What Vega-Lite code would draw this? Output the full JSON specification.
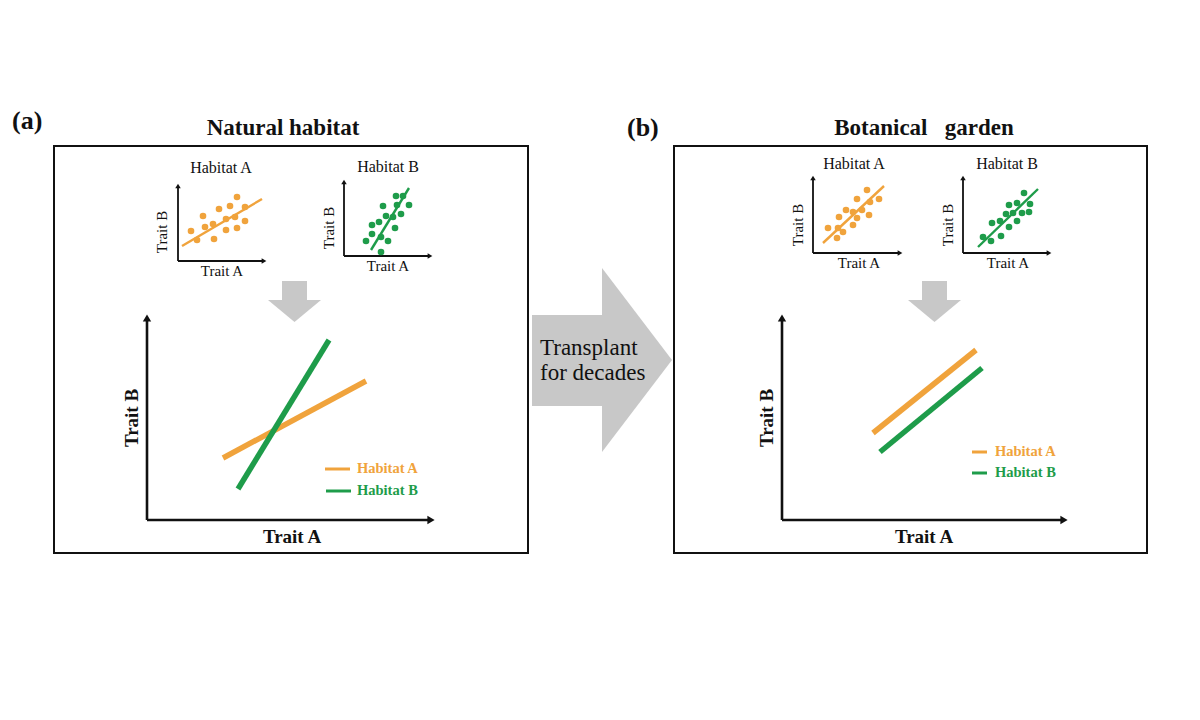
{
  "$schema": "https://vega.github.io/schema/vega-lite/v6.json",
  "width": 1200,
  "height": 720,
  "autosize": {"type": "none"},
  "padding": 0,
  "background": "white",
  "config": {"view": {"stroke": null}, "text": {"font": "Liberation Serif"}},
  "datasets": {
    "boxes": [
      {"panel": "a", "x": 54, "y": 146, "x2": 528, "y2": 553},
      {"panel": "b", "x": 674, "y": 146, "x2": 1147, "y2": 553}
    ],
    "shafts": [
      {"arrow": "transplant", "x": 532, "y": 315, "x2": 603, "y2": 406},
      {"arrow": "down a", "x": 282, "y": 281, "x2": 307, "y2": 301},
      {"arrow": "down b", "x": 922, "y": 281, "x2": 947, "y2": 301}
    ],
    "bigHead": [
      {"x": 602, "y": 268, "y2": 452},
      {"x": 672, "y": 360, "y2": 360}
    ],
    "downHeads": [
      {"arrow": "down a", "y": 300, "x": 268, "x2": 321},
      {"arrow": "down a", "y": 322, "x": 294.5, "x2": 294.5},
      {"arrow": "down b", "y": 300, "x": 908, "x2": 961},
      {"arrow": "down b", "y": 322, "x": 934.5, "x2": 934.5}
    ],
    "smallAxes": [
      {"plot": "a-A", "axis": "Trait B", "x": 178, "y": 261, "x2": 178, "y2": 186},
      {"plot": "a-A", "axis": "Trait A", "x": 178, "y": 261, "x2": 264, "y2": 261},
      {"plot": "a-B", "axis": "Trait B", "x": 344, "y": 256, "x2": 344, "y2": 182},
      {"plot": "a-B", "axis": "Trait A", "x": 344, "y": 256, "x2": 430, "y2": 256},
      {"plot": "b-A", "axis": "Trait B", "x": 813, "y": 253, "x2": 813, "y2": 178},
      {"plot": "b-A", "axis": "Trait A", "x": 813, "y": 253, "x2": 900, "y2": 253},
      {"plot": "b-B", "axis": "Trait B", "x": 963, "y": 253, "x2": 963, "y2": 178},
      {"plot": "b-B", "axis": "Trait A", "x": 963, "y": 253, "x2": 1049, "y2": 253}
    ],
    "mainAxes": [
      {"plot": "a", "axis": "Trait B", "x": 147, "y": 520, "x2": 147, "y2": 318},
      {"plot": "a", "axis": "Trait A", "x": 147, "y": 520, "x2": 431, "y2": 520},
      {"plot": "b", "axis": "Trait B", "x": 782, "y": 520, "x2": 782, "y2": 318},
      {"plot": "b", "axis": "Trait A", "x": 782, "y": 520, "x2": 1064, "y2": 520}
    ],
    "points": [
      {"panel": "Natural habitat", "habitat": "Habitat A", "x": 191, "y": 231},
      {"panel": "Natural habitat", "habitat": "Habitat A", "x": 197, "y": 240},
      {"panel": "Natural habitat", "habitat": "Habitat A", "x": 203, "y": 216},
      {"panel": "Natural habitat", "habitat": "Habitat A", "x": 205, "y": 227},
      {"panel": "Natural habitat", "habitat": "Habitat A", "x": 213, "y": 224},
      {"panel": "Natural habitat", "habitat": "Habitat A", "x": 214, "y": 239},
      {"panel": "Natural habitat", "habitat": "Habitat A", "x": 219, "y": 209},
      {"panel": "Natural habitat", "habitat": "Habitat A", "x": 226, "y": 219},
      {"panel": "Natural habitat", "habitat": "Habitat A", "x": 226, "y": 230},
      {"panel": "Natural habitat", "habitat": "Habitat A", "x": 230, "y": 206},
      {"panel": "Natural habitat", "habitat": "Habitat A", "x": 235, "y": 217},
      {"panel": "Natural habitat", "habitat": "Habitat A", "x": 237, "y": 228},
      {"panel": "Natural habitat", "habitat": "Habitat A", "x": 237, "y": 197},
      {"panel": "Natural habitat", "habitat": "Habitat A", "x": 245, "y": 207},
      {"panel": "Natural habitat", "habitat": "Habitat A", "x": 245, "y": 221},
      {"panel": "Natural habitat", "habitat": "Habitat B", "x": 366, "y": 241},
      {"panel": "Natural habitat", "habitat": "Habitat B", "x": 372, "y": 234},
      {"panel": "Natural habitat", "habitat": "Habitat B", "x": 372, "y": 225},
      {"panel": "Natural habitat", "habitat": "Habitat B", "x": 379, "y": 222},
      {"panel": "Natural habitat", "habitat": "Habitat B", "x": 381, "y": 237},
      {"panel": "Natural habitat", "habitat": "Habitat B", "x": 381, "y": 252},
      {"panel": "Natural habitat", "habitat": "Habitat B", "x": 383, "y": 206},
      {"panel": "Natural habitat", "habitat": "Habitat B", "x": 386, "y": 216},
      {"panel": "Natural habitat", "habitat": "Habitat B", "x": 388, "y": 241},
      {"panel": "Natural habitat", "habitat": "Habitat B", "x": 393, "y": 217},
      {"panel": "Natural habitat", "habitat": "Habitat B", "x": 395, "y": 228},
      {"panel": "Natural habitat", "habitat": "Habitat B", "x": 396, "y": 196},
      {"panel": "Natural habitat", "habitat": "Habitat B", "x": 397, "y": 205},
      {"panel": "Natural habitat", "habitat": "Habitat B", "x": 401, "y": 214},
      {"panel": "Natural habitat", "habitat": "Habitat B", "x": 403, "y": 196},
      {"panel": "Natural habitat", "habitat": "Habitat B", "x": 409, "y": 205},
      {"panel": "Botanical garden", "habitat": "Habitat A", "x": 828, "y": 228},
      {"panel": "Botanical garden", "habitat": "Habitat A", "x": 837, "y": 238},
      {"panel": "Botanical garden", "habitat": "Habitat A", "x": 838, "y": 228},
      {"panel": "Botanical garden", "habitat": "Habitat A", "x": 839, "y": 217},
      {"panel": "Botanical garden", "habitat": "Habitat A", "x": 843, "y": 232},
      {"panel": "Botanical garden", "habitat": "Habitat A", "x": 846, "y": 210},
      {"panel": "Botanical garden", "habitat": "Habitat A", "x": 853, "y": 225},
      {"panel": "Botanical garden", "habitat": "Habitat A", "x": 853, "y": 212},
      {"panel": "Botanical garden", "habitat": "Habitat A", "x": 857, "y": 218},
      {"panel": "Botanical garden", "habitat": "Habitat A", "x": 857, "y": 199},
      {"panel": "Botanical garden", "habitat": "Habitat A", "x": 862, "y": 210},
      {"panel": "Botanical garden", "habitat": "Habitat A", "x": 867, "y": 190},
      {"panel": "Botanical garden", "habitat": "Habitat A", "x": 869, "y": 215},
      {"panel": "Botanical garden", "habitat": "Habitat A", "x": 870, "y": 202},
      {"panel": "Botanical garden", "habitat": "Habitat A", "x": 879, "y": 199},
      {"panel": "Botanical garden", "habitat": "Habitat B", "x": 983, "y": 237},
      {"panel": "Botanical garden", "habitat": "Habitat B", "x": 991, "y": 241},
      {"panel": "Botanical garden", "habitat": "Habitat B", "x": 992, "y": 223},
      {"panel": "Botanical garden", "habitat": "Habitat B", "x": 1000, "y": 221},
      {"panel": "Botanical garden", "habitat": "Habitat B", "x": 1001, "y": 236},
      {"panel": "Botanical garden", "habitat": "Habitat B", "x": 1006, "y": 214},
      {"panel": "Botanical garden", "habitat": "Habitat B", "x": 1009, "y": 227},
      {"panel": "Botanical garden", "habitat": "Habitat B", "x": 1009, "y": 205},
      {"panel": "Botanical garden", "habitat": "Habitat B", "x": 1013, "y": 213},
      {"panel": "Botanical garden", "habitat": "Habitat B", "x": 1017, "y": 203},
      {"panel": "Botanical garden", "habitat": "Habitat B", "x": 1017, "y": 221},
      {"panel": "Botanical garden", "habitat": "Habitat B", "x": 1022, "y": 213},
      {"panel": "Botanical garden", "habitat": "Habitat B", "x": 1024, "y": 193},
      {"panel": "Botanical garden", "habitat": "Habitat B", "x": 1030, "y": 204},
      {"panel": "Botanical garden", "habitat": "Habitat B", "x": 1029, "y": 212}
    ],
    "smallFits": [
      {"panel": "Natural habitat", "habitat": "Habitat A", "x": 182, "y": 246, "x2": 262, "y2": 199},
      {"panel": "Natural habitat", "habitat": "Habitat B", "x": 371, "y": 250, "x2": 409, "y2": 188},
      {"panel": "Botanical garden", "habitat": "Habitat A", "x": 823, "y": 243, "x2": 884, "y2": 186},
      {"panel": "Botanical garden", "habitat": "Habitat B", "x": 978, "y": 247, "x2": 1038, "y2": 189}
    ],
    "mainLines": [
      {"panel": "Natural habitat", "habitat": "Habitat A", "x": 223, "y": 458, "x2": 366, "y2": 381},
      {"panel": "Natural habitat", "habitat": "Habitat B", "x": 238, "y": 489, "x2": 329, "y2": 340},
      {"panel": "Botanical garden", "habitat": "Habitat A", "x": 873, "y": 433, "x2": 976, "y2": 350},
      {"panel": "Botanical garden", "habitat": "Habitat B", "x": 880, "y": 452, "x2": 982, "y2": 368}
    ],
    "legendLines": [
      {"panel": "Natural habitat", "habitat": "Habitat A", "x": 325, "y": 469, "x2": 350, "y2": 469},
      {"panel": "Natural habitat", "habitat": "Habitat B", "x": 326, "y": 491, "x2": 351, "y2": 491},
      {"panel": "Botanical garden", "habitat": "Habitat A", "x": 972, "y": 452, "x2": 987, "y2": 452},
      {"panel": "Botanical garden", "habitat": "Habitat B", "x": 972, "y": 473, "x2": 987, "y2": 473}
    ],
    "legendText": [
      {"panel": "Natural habitat", "habitat": "Habitat A", "x": 357, "y": 469},
      {"panel": "Natural habitat", "habitat": "Habitat B", "x": 357, "y": 491},
      {"panel": "Botanical garden", "habitat": "Habitat A", "x": 995, "y": 452},
      {"panel": "Botanical garden", "habitat": "Habitat B", "x": 995, "y": 473}
    ],
    "panelLabels": [
      {"label": "(a)", "x": 12, "y": 121},
      {"label": "(b)", "x": 627, "y": 128}
    ],
    "titles": [
      {"label": "Natural habitat", "x": 283, "y": 128},
      {"label": "Botanical\u00a0\u00a0\u00a0garden", "x": 924, "y": 128}
    ],
    "smallTitles": [
      {"label": "Habitat A", "x": 221, "y": 168},
      {"label": "Habitat B", "x": 388, "y": 167},
      {"label": "Habitat A", "x": 854, "y": 164},
      {"label": "Habitat B", "x": 1007, "y": 164}
    ],
    "smallXLabels": [
      {"label": "Trait A", "x": 222, "y": 271},
      {"label": "Trait A", "x": 388, "y": 266},
      {"label": "Trait A", "x": 859, "y": 263},
      {"label": "Trait A", "x": 1008, "y": 263}
    ],
    "smallYLabels": [
      {"label": "Trait B", "x": 162, "y": 232},
      {"label": "Trait B", "x": 329, "y": 228},
      {"label": "Trait B", "x": 798, "y": 225},
      {"label": "Trait B", "x": 948, "y": 225}
    ],
    "mainXLabels": [
      {"label": "Trait A", "x": 292, "y": 537},
      {"label": "Trait A", "x": 924, "y": 537}
    ],
    "mainYLabels": [
      {"label": "Trait B", "x": 132, "y": 418},
      {"label": "Trait B", "x": 767, "y": 418}
    ],
    "transplant": [
      {"label": "Transplant", "x": 540, "y": 348},
      {"label": "for decades", "x": 540, "y": 373}
    ]
  },
  "encoding": {
    "x": {"field": "x", "type": "quantitative", "scale": {"domain": [0, 1200], "nice": false, "zero": false}, "axis": null},
    "y": {"field": "y", "type": "quantitative", "scale": {"domain": [0, 720], "reverse": true, "nice": false, "zero": false}, "axis": null}
  },
  "layer": [
    {
      "data": {"name": "boxes"},
      "mark": {"type": "rect", "fillOpacity": 0, "stroke": "#111111", "strokeWidth": 2},
      "encoding": {"x2": {"field": "x2"}, "y2": {"field": "y2"}}
    },
    {
      "data": {"name": "shafts"},
      "mark": {"type": "rect", "color": "#c8c8c8"},
      "encoding": {"x2": {"field": "x2"}, "y2": {"field": "y2"}}
    },
    {
      "data": {"name": "bigHead"},
      "mark": {"type": "area", "color": "#c8c8c8", "orient": "vertical"},
      "encoding": {"y2": {"field": "y2"}}
    },
    {
      "data": {"name": "downHeads"},
      "mark": {"type": "area", "color": "#c8c8c8", "orient": "horizontal"},
      "encoding": {"x2": {"field": "x2"}, "detail": {"field": "arrow"}}
    },
    {
      "data": {"name": "smallAxes"},
      "mark": {"type": "rule", "color": "#111111", "strokeWidth": 1.8},
      "encoding": {"x2": {"field": "x2"}, "y2": {"field": "y2"}}
    },
    {
      "data": {"name": "smallAxes"},
      "transform": [{"filter": "datum.axis === 'Trait B'"}],
      "mark": {"type": "point", "shape": "triangle-up", "filled": true, "color": "#111111", "size": 30, "opacity": 1},
      "encoding": {"x": {"field": "x2", "type": "quantitative"}, "y": {"field": "y2", "type": "quantitative"}}
    },
    {
      "data": {"name": "smallAxes"},
      "transform": [{"filter": "datum.axis === 'Trait A'"}],
      "mark": {"type": "point", "shape": "triangle-right", "filled": true, "color": "#111111", "size": 30, "opacity": 1},
      "encoding": {"x": {"field": "x2", "type": "quantitative"}, "y": {"field": "y2", "type": "quantitative"}}
    },
    {
      "data": {"name": "mainAxes"},
      "mark": {"type": "rule", "color": "#111111", "strokeWidth": 2.6},
      "encoding": {"x2": {"field": "x2"}, "y2": {"field": "y2"}}
    },
    {
      "data": {"name": "mainAxes"},
      "transform": [{"filter": "datum.axis === 'Trait B'"}],
      "mark": {"type": "point", "shape": "triangle-up", "filled": true, "color": "#111111", "size": 70, "opacity": 1},
      "encoding": {"x": {"field": "x2", "type": "quantitative"}, "y": {"field": "y2", "type": "quantitative"}}
    },
    {
      "data": {"name": "mainAxes"},
      "transform": [{"filter": "datum.axis === 'Trait A'"}],
      "mark": {"type": "point", "shape": "triangle-right", "filled": true, "color": "#111111", "size": 70, "opacity": 1},
      "encoding": {"x": {"field": "x2", "type": "quantitative"}, "y": {"field": "y2", "type": "quantitative"}}
    },
    {
      "data": {"name": "smallFits"},
      "mark": {"type": "rule", "strokeWidth": 2.4},
      "encoding": {
        "x2": {"field": "x2"}, "y2": {"field": "y2"},
        "color": {"field": "habitat", "type": "nominal", "scale": {"domain": ["Habitat A", "Habitat B"], "range": ["#F0A33C", "#1E9C4A"]}, "legend": null}
      }
    },
    {
      "data": {"name": "points"},
      "mark": {"type": "point", "shape": "circle", "filled": true, "size": 44, "opacity": 1},
      "encoding": {
        "color": {"field": "habitat", "type": "nominal", "legend": null}
      }
    },
    {
      "data": {"name": "mainLines"},
      "mark": {"type": "rule", "strokeWidth": 5.5},
      "encoding": {
        "x2": {"field": "x2"}, "y2": {"field": "y2"},
        "color": {"field": "habitat", "type": "nominal", "legend": null}
      }
    },
    {
      "data": {"name": "legendLines"},
      "mark": {"type": "rule", "strokeWidth": 3},
      "encoding": {
        "x2": {"field": "x2"}, "y2": {"field": "y2"},
        "color": {"field": "habitat", "type": "nominal", "legend": null}
      }
    },
    {
      "data": {"name": "legendText"},
      "mark": {"type": "text", "align": "left", "baseline": "middle", "fontWeight": "bold", "fontSize": 14.5},
      "encoding": {
        "text": {"field": "habitat"},
        "color": {"field": "habitat", "type": "nominal", "legend": null}
      }
    },
    {
      "data": {"name": "panelLabels"},
      "mark": {"type": "text", "align": "left", "baseline": "middle", "fontWeight": "bold", "fontSize": 26, "color": "#111111"},
      "encoding": {"text": {"field": "label"}}
    },
    {
      "data": {"name": "titles"},
      "mark": {"type": "text", "align": "center", "baseline": "middle", "fontWeight": "bold", "fontSize": 23, "color": "#111111"},
      "encoding": {"text": {"field": "label"}}
    },
    {
      "data": {"name": "smallTitles"},
      "mark": {"type": "text", "align": "center", "baseline": "middle", "fontSize": 16, "color": "#111111"},
      "encoding": {"text": {"field": "label"}}
    },
    {
      "data": {"name": "smallXLabels"},
      "mark": {"type": "text", "align": "center", "baseline": "middle", "fontSize": 15, "color": "#111111"},
      "encoding": {"text": {"field": "label"}}
    },
    {
      "data": {"name": "smallYLabels"},
      "mark": {"type": "text", "align": "center", "baseline": "middle", "fontSize": 15, "angle": 270, "color": "#111111"},
      "encoding": {"text": {"field": "label"}}
    },
    {
      "data": {"name": "mainXLabels"},
      "mark": {"type": "text", "align": "center", "baseline": "middle", "fontSize": 19, "fontWeight": "bold", "color": "#111111"},
      "encoding": {"text": {"field": "label"}}
    },
    {
      "data": {"name": "mainYLabels"},
      "mark": {"type": "text", "align": "center", "baseline": "middle", "fontSize": 19, "fontWeight": "bold", "angle": 270, "color": "#111111"},
      "encoding": {"text": {"field": "label"}}
    },
    {
      "data": {"name": "transplant"},
      "mark": {"type": "text", "align": "left", "baseline": "middle", "fontSize": 23, "color": "#111111"},
      "encoding": {"text": {"field": "label"}}
    }
  ]
}
